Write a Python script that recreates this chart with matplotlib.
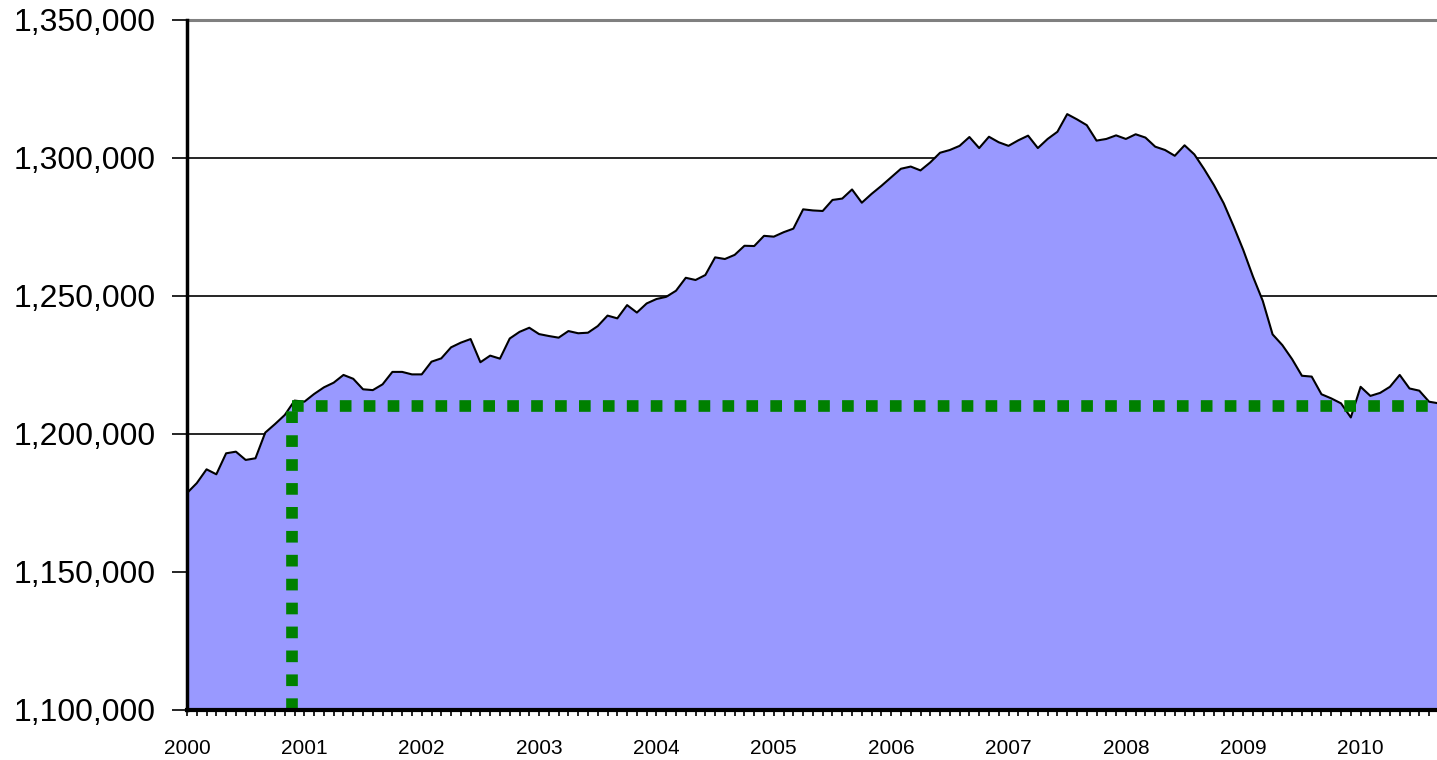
import numpy as np
import matplotlib.pyplot as plt
from matplotlib.ticker import FuncFormatter, MultipleLocator

# Monthly values, Jan 2000 onward
values = [
    1178600, 1182200, 1187200, 1185400, 1193000, 1193600, 1190600, 1191200,
    1200500, 1203600, 1206900, 1212100, 1211700, 1214500, 1216900, 1218600,
    1221400, 1220000, 1216200, 1215900, 1218000, 1222500, 1222500, 1221600,
    1221600, 1226200, 1227400, 1231400, 1233100, 1234400, 1226000, 1228400,
    1227300, 1234600, 1237000, 1238500, 1236200, 1235500, 1234900, 1237300,
    1236500, 1236700, 1239100, 1242900, 1241900, 1246700, 1244000, 1247300,
    1248900, 1249700, 1251900, 1256600, 1255800, 1257600, 1264000, 1263400,
    1264900, 1268200, 1268100, 1271800, 1271500, 1273100, 1274400, 1281400,
    1281000, 1280800, 1284800, 1285300, 1288600, 1283800, 1287000, 1289900,
    1293000, 1296100, 1296900, 1295500, 1298400, 1301900, 1302900, 1304400,
    1307600, 1303600, 1307700, 1305700, 1304400, 1306400, 1308100, 1303600,
    1306900, 1309500, 1315900, 1314000, 1311900, 1306300, 1306900, 1308200,
    1306900, 1308600, 1307400, 1304100, 1302900, 1300800, 1304600, 1301300,
    1296000, 1290200, 1283600, 1275400, 1266700, 1257000, 1248200, 1236100,
    1232200, 1227100, 1221100, 1220800, 1214400, 1212900, 1211100, 1206000,
    1217100, 1213800, 1214900, 1217100, 1221400, 1216500, 1215700, 1211700,
    1211100,
]
years = [str(y) for y in range(2000, 2011)]
level = 1210000      # green reference level
cross_month = 10.7   # where the series first reaches that level

x = np.arange(len(values))
ymin, ymax = 1100000, 1350000

fig = plt.figure(figsize=(14.37, 7.6), dpi=100)
ax = fig.add_axes([187 / 1437, 50 / 760, 1 - 187 / 1437, 690 / 760])

# gridlines behind the area
for g in [1200000, 1250000, 1300000]:
    ax.axhline(g, color='black', lw=1.2, zorder=1)
ax.axhline(ymax, color='#808080', lw=2.2, zorder=1, clip_on=False)

ax.fill_between(x, values, ymin, color='#9999FF', lw=0, zorder=2)
ax.plot(x, values, color='black', lw=1.5, zorder=3)

# green dotted marker lines
dot = dict(color='#008000', lw=8.4, dashes=(1, 1.05), zorder=4, solid_capstyle='butt')
ax.plot([cross_month, cross_month], [ymin, level], **dot)
ax.plot([cross_month, 128], [level, level], **dot)

ax.set_xlim(0, (1437 - 187) / 9.78)
ax.set_ylim(ymin, ymax)

ax.set_xticks(np.arange(0, 12 * len(years), 12))
ax.set_xticklabels(years, fontsize=15, family='Liberation Sans')
ax.xaxis.set_minor_locator(MultipleLocator(1))
ax.tick_params(axis='x', which='both', direction='out', length=4, width=1.2, pad=17)

ax.set_yticks(np.arange(ymin, ymax + 1, 50000))
ax.yaxis.set_major_formatter(FuncFormatter(lambda v, p: f'{int(v):,}'))
ax.tick_params(axis='y', direction='out', length=11, width=1.2, pad=11.5, labelsize=23)
for t in ax.get_yticklabels():
    t.set_family('Liberation Sans')

for s in ['top', 'right']:
    ax.spines[s].set_visible(False)
ax.spines['left'].set_linewidth(2.5)
ax.spines['bottom'].set_linewidth(3)
ax.spines['left'].set_zorder(5)
ax.spines['bottom'].set_zorder(5)

fig.savefig('out.png', dpi=100)
